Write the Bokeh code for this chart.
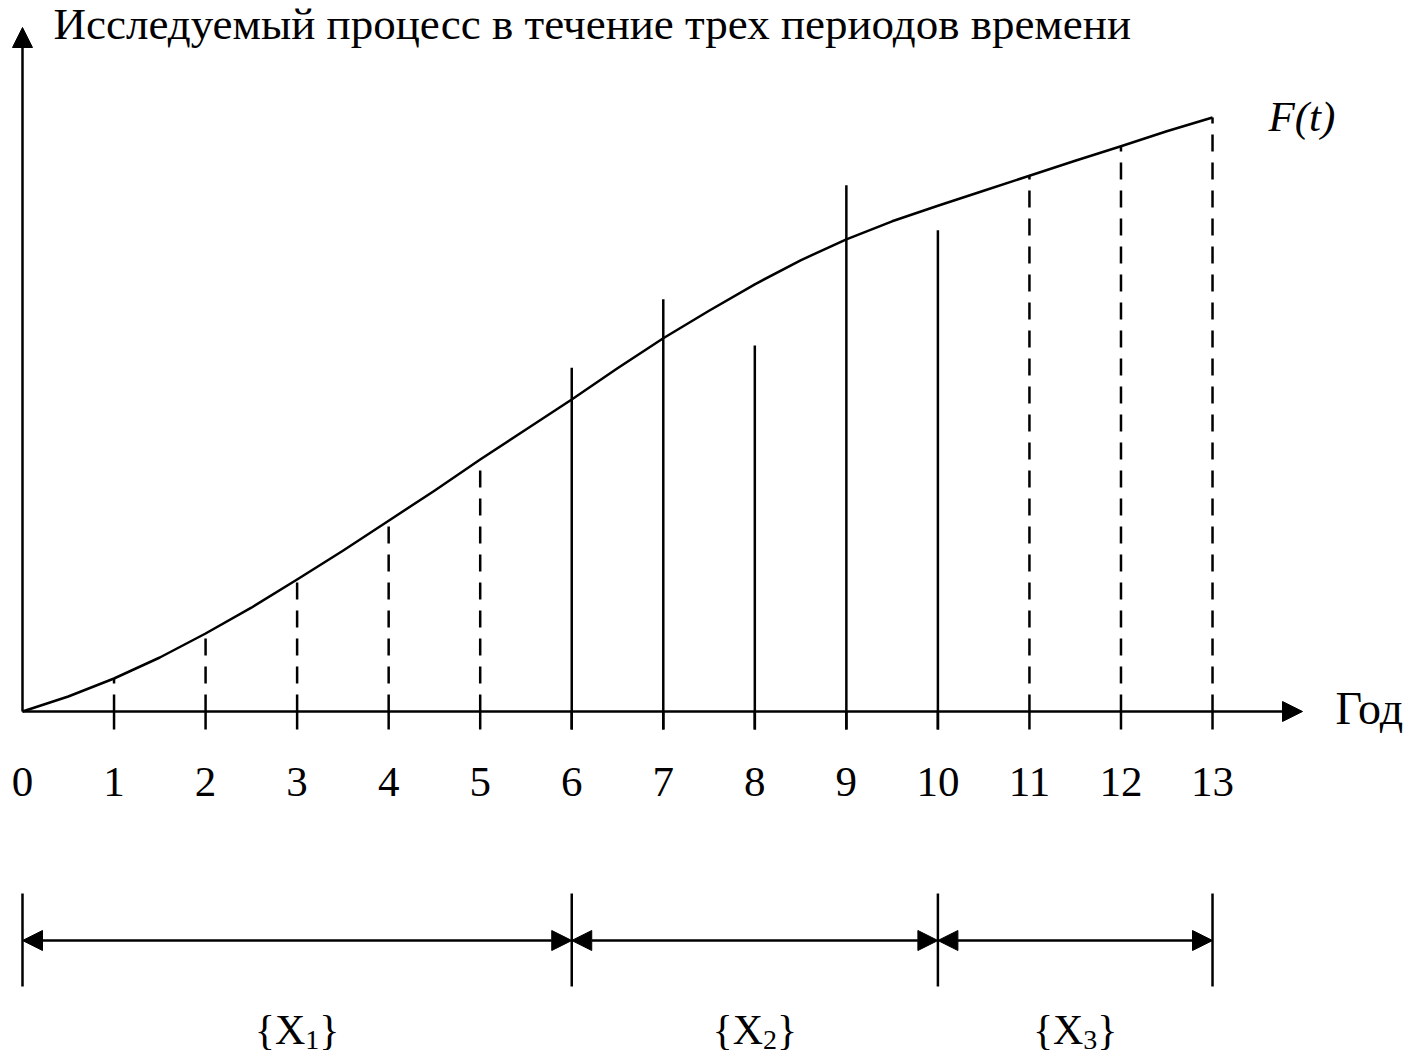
from bokeh.plotting import figure
from bokeh.models import Range1d, Arrow, NormalHead
from bokeh.core.properties import value
from bokeh.embed import file_html
from bokeh.resources import INLINE

# --- data -------------------------------------------------------------
years = list(range(14))
year_labels = [str(y) for y in years]

# smooth process curve F(t), sampled every half year
curve_t = [0, 0.5, 1, 1.5, 2, 2.5, 3, 3.5, 4, 4.5, 5, 5.5, 6, 6.5,
           7, 7.5, 8, 8.5, 9, 9.5, 10, 10.5, 11, 11.5, 12, 12.5, 13]
curve_f = [0.0, 2.5, 5.5, 9.0, 13.0, 17.3, 22.0, 26.8, 31.8, 36.8, 42.0,
           47.0, 52.0, 57.2, 62.2, 66.8, 71.2, 75.2, 78.7, 81.7, 84.3,
           86.8, 89.3, 91.8, 94.2, 96.7, 99.0]

# years shown with dashed drop lines (values on the curve)
dashed_years = [1, 2, 3, 4, 5, 11, 12, 13]
# observed values during the middle period (solid lines)
solid_years = [6, 7, 8, 9, 10]
solid_values = [57.3, 68.7, 61.0, 87.7, 80.2]

# period boundaries and names
period_bounds = [0, 6, 10, 13]
period_names = ["1", "2", "3"]

# --- canvas geometry (pixels) -----------------------------------------
W, H = 1417, 1055
X0, SX = 22.0, 91.54      # pixel x of year 0, pixels per year
Y0, SY = 711.0, 6.0       # pixel y of F=0, pixels per unit of F


def dx(px):
    return (px - X0) / SX


def dy(py):
    return (Y0 - py) / SY


def base(py, fs):
    # data y for a text whose alphabetic baseline sits at pixel row py
    return dy(py - 0.38 * fs)


FONT = value("Liberation Serif")
INK = "#000000"
LW = 2.5

p = figure(width=W, height=H, output_backend="svg", toolbar_location=None,
           x_range=Range1d(dx(0), dx(W)), y_range=Range1d(dy(H), dy(0)),
           x_axis_type=None, y_axis_type=None, min_border=0,
           background_fill_color="white", border_fill_color="white")
p.outline_line_color = None
p.grid.visible = False


def head():
    return NormalHead(size=20, fill_color=INK, line_color=INK, line_width=1)


# axes with arrow heads
p.add_layout(Arrow(end=head(), x_start=0, y_start=0, x_end=0, y_end=dy(27),
                   line_width=LW, line_color=INK))
p.add_layout(Arrow(end=head(), x_start=0, y_start=0, x_end=dx(1302), y_end=0,
                   line_width=LW, line_color=INK))

# tick marks below the time axis
tick_years = years[1:]
p.segment(x0=tick_years, y0=[0] * len(tick_years),
          x1=tick_years, y1=[dy(729)] * len(tick_years),
          line_width=LW, line_color=INK)

# dashed drop lines up to the curve
f_at = dict(zip(curve_t, curve_f))
dashed_tops = [f_at[y] for y in dashed_years]
p.segment(x0=dashed_years, y0=[0] * len(dashed_years),
          x1=dashed_years, y1=dashed_tops,
          line_width=LW, line_color=INK, line_dash="17 11")

# solid lines for the observed middle period
p.segment(x0=solid_years, y0=[dy(729)] * len(solid_years),
          x1=solid_years, y1=solid_values,
          line_width=LW, line_color=INK)

# the process curve
p.line(curve_t, curve_f, line_width=LW, line_color=INK, line_join="round")

# year labels
fs_num = 43
p.text(x=years, y=[base(798, fs_num)] * len(years), text=year_labels,
       text_font=FONT, text_font_size=f"{fs_num}px", text_color=INK,
       text_align="center", text_baseline="alphabetic")

# axis captions
fs_title = 45
p.text(x=[dx(53)], y=[base(41, fs_title)],
       text=["Исследуемый процесс в течение трех периодов времени"],
       text_font=FONT, text_font_size=f"{fs_title}px", text_color=INK,
       text_align="left", text_baseline="alphabetic")
fs_year = 46
p.text(x=[dx(1335)], y=[base(725, fs_year)], text=["Год"],
       text_font=FONT, text_font_size=f"{fs_year}px", text_color=INK,
       text_align="left", text_baseline="alphabetic")
fs_f = 43
p.text(x=[dx(1268)], y=[base(132, fs_f)], text=["F(t)"],
       text_font=FONT, text_font_size=f"{fs_f}px", text_font_style="italic",
       text_color=INK, text_align="left", text_baseline="alphabetic")

# period brackets
n_b = len(period_bounds)
p.segment(x0=period_bounds, y0=[dy(893)] * n_b,
          x1=period_bounds, y1=[dy(986)] * n_b,
          line_width=LW, line_color=INK)
for a, b in zip(period_bounds[:-1], period_bounds[1:]):
    p.add_layout(Arrow(start=head(), end=head(),
                       x_start=a, y_start=dy(940), x_end=b, y_end=dy(940),
                       line_width=LW, line_color=INK))

# period names {X1}, {X2}, {X3}
mids = [(a + b) / 2 for a, b in zip(period_bounds[:-1], period_bounds[1:])]
fs, fs_sub = 42, 28
w_brace, w_x, w_sub = 0.48 * fs, 0.722 * fs, 0.5 * fs_sub
total = 2 * w_brace + w_x + w_sub
left = -total / 2
base_y = [base(1045, fs)] * len(mids)
p.text(x=mids, y=base_y, text=["{X"] * len(mids), x_offset=left,
       text_font=FONT, text_font_size=f"{fs}px", text_color=INK,
       text_align="left", text_baseline="alphabetic")
p.text(x=mids, y=[base(1050, fs_sub)] * len(mids), text=period_names,
       x_offset=left + w_brace + w_x,
       text_font=FONT, text_font_size=f"{fs_sub}px",
       text_color=INK, text_align="left", text_baseline="alphabetic")
p.text(x=mids, y=base_y, text=["}"] * len(mids),
       x_offset=left + w_brace + w_x + w_sub,
       text_font=FONT, text_font_size=f"{fs}px", text_color=INK,
       text_align="left", text_baseline="alphabetic")

open("out.html", "w").write(file_html(p, INLINE))
